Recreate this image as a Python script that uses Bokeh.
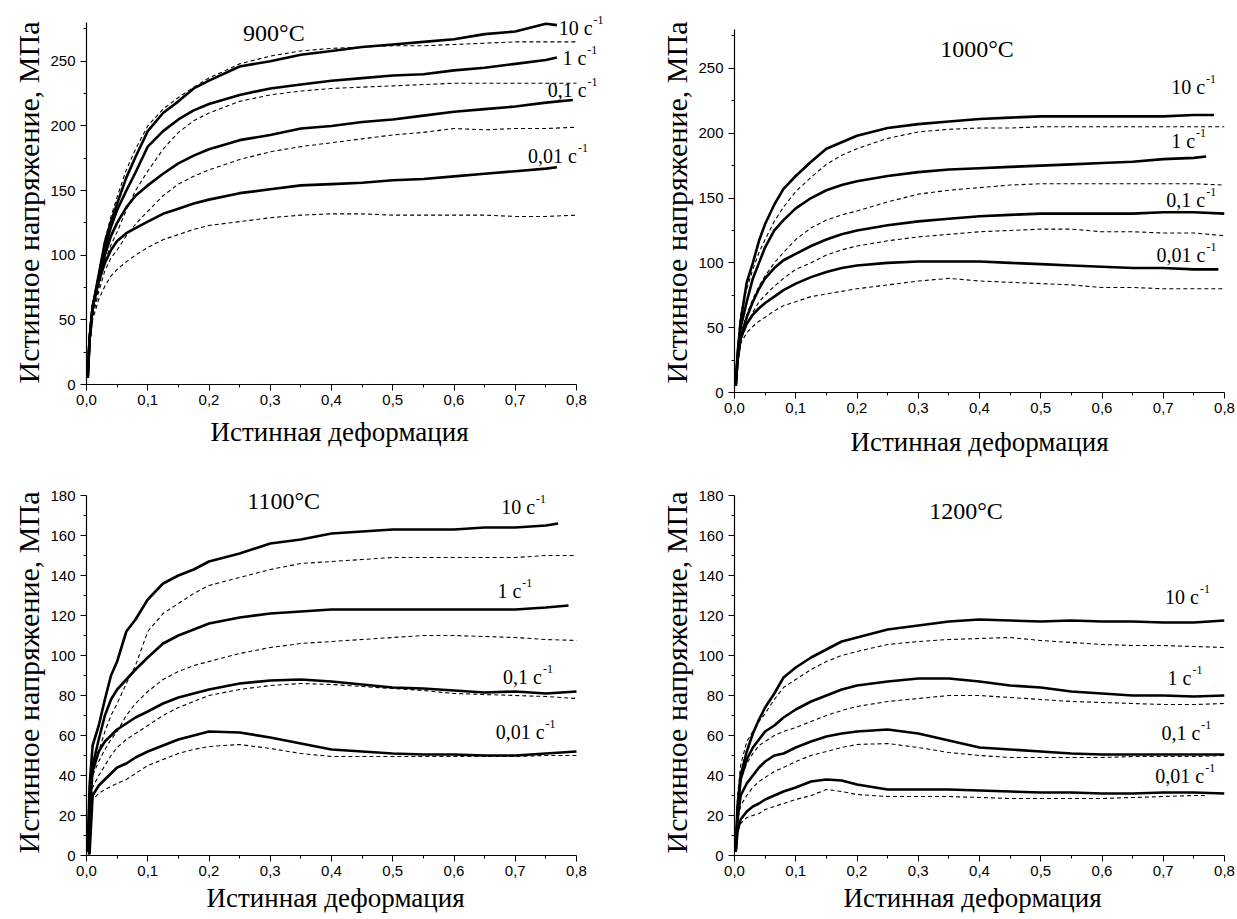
from bokeh.plotting import figure
from bokeh.models import Range1d, FixedTicker, CustomJSTickFormatter, Label, Title
from bokeh.layouts import column, row
from bokeh.embed import file_html
from bokeh.resources import INLINE

# ---------------- data ----------------
STRAIN = [0.002, 0.005, 0.01, 0.02, 0.03, 0.04, 0.05, 0.065, 0.08, 0.1, 0.125,
          0.15, 0.175, 0.2, 0.25, 0.3, 0.35, 0.4, 0.45, 0.5, 0.55, 0.6, 0.65, 0.7, 0.75]

RATES = ["10", "1", "0,1", "0,01"]
TEMPS = ["900°C", "1000°C", "1100°C", "1200°C"]
UNIT = "с"
X_TICKS = [0.0, 0.1, 0.2, 0.3, 0.4, 0.5, 0.6, 0.7, 0.8]
X_MINOR = [0.05, 0.15, 0.25, 0.35, 0.45, 0.55, 0.65, 0.75]
Y_TICKS_HI = [0, 50, 100, 150, 200, 250]
Y_MINOR_HI = [25, 75, 125, 175, 225, 275]
Y_TICKS_LO = [0, 20, 40, 60, 80, 100, 120, 140, 160, 180]
Y_MINOR_LO = [10, 30, 50, 70, 90, 110, 130, 150, 170]
Y_LABEL = "Истинное напряжение, МПа"
X_LABEL = "Истинная деформация"

# 900 C  (solid = measured, dashed = model); last value is at the end strain
S900_10 = [5, 35, 60, 85, 110, 126, 140, 160, 176, 196, 210, 219, 229, 235, 246, 250, 255, 258, 261, 263, 265, 267, 271, 273, 279, 278]
S900_1 = [5, 35, 60, 83, 105, 122, 135, 150, 164, 184, 196, 205, 212, 217, 224, 229, 232, 235, 237, 239, 240, 243, 245, 248, 251, 253]
S900_01 = [5, 35, 60, 80, 100, 115, 125, 137, 146, 154, 163, 171, 177, 182, 189, 193, 198, 200, 203, 205, 208, 211, 213, 215, 218, 220]
S900_001 = [5, 35, 60, 80, 94, 104, 111, 117, 121, 126, 132, 136, 140, 143, 148, 151, 154, 155, 156, 158, 159, 161, 163, 165, 167, 168]
D900_10 = [5, 35, 60, 86, 112, 130, 145, 166, 182, 200, 213, 222, 230, 237, 248, 254, 258, 260, 261, 262, 262, 263, 264, 265, 265, 265]
D900_1 = [5, 30, 55, 75, 95, 108, 118, 135, 150, 165, 182, 195, 204, 210, 219, 224, 227, 229, 230, 231, 232, 233, 233, 233, 233, 233]
D900_01 = [5, 30, 52, 72, 88, 98, 104, 115, 124, 134, 146, 155, 161, 166, 174, 180, 184, 187, 190, 193, 195, 198, 197, 198, 198, 199]
D900_001 = [5, 30, 50, 66, 76, 84, 89, 95, 100, 106, 112, 116, 120, 123, 126, 129, 131, 132, 132, 131, 131, 131, 131, 130, 130, 131]
END900_S = [0.768, 0.768, 0.794, 0.768]
END900_D = [0.8, 0.8, 0.8, 0.8]

# 1000 C
S1000_10 = [5, 30, 55, 85, 100, 117, 130, 145, 157, 167, 178, 188, 193, 198, 204, 207, 209, 211, 212, 213, 213, 213, 213, 213, 214, 214]
S1000_1 = [5, 28, 50, 70, 88, 100, 112, 125, 133, 142, 150, 156, 160, 163, 167, 170, 172, 173, 174, 175, 176, 177, 178, 180, 181, 182]
S1000_01 = [5, 25, 42, 58, 70, 80, 88, 96, 102, 107, 113, 118, 122, 125, 129, 132, 134, 136, 137, 138, 138, 138, 138, 139, 139, 138]
S1000_001 = [5, 25, 42, 53, 60, 65, 69, 74, 79, 84, 89, 93, 96, 98, 100, 101, 101, 101, 100, 99, 98, 97, 96, 96, 95, 95]
D1000_10 = [5, 35, 60, 80, 95, 108, 118, 132, 143, 155, 166, 176, 183, 188, 196, 201, 203, 204, 204, 205, 205, 205, 205, 205, 205, 205]
D1000_1 = [5, 28, 45, 60, 72, 82, 90, 100, 108, 118, 127, 133, 137, 140, 147, 153, 156, 158, 160, 161, 161, 161, 161, 161, 161, 160]
D1000_01 = [5, 25, 40, 52, 62, 70, 75, 82, 88, 95, 100, 106, 110, 113, 117, 120, 122, 124, 125, 126, 126, 124, 124, 123, 123, 121]
D1000_001 = [5, 22, 38, 46, 51, 55, 58, 63, 67, 70, 74, 76, 78, 80, 83, 86, 88, 86, 85, 84, 83, 81, 81, 80, 80, 80]
END1000_S = [0.783, 0.77, 0.8, 0.79]
END1000_D = [0.8, 0.8, 0.8, 0.8]

# 1100 C
S1100_10 = [2, 35, 55, 65, 78, 90, 97, 112, 118, 128, 136, 140, 143, 147, 151, 156, 158, 161, 162, 163, 163, 163, 164, 164, 165, 166]
S1100_1 = [2, 28, 45, 58, 70, 78, 83, 88, 93, 99, 106, 110, 113, 116, 119, 121, 122, 123, 123, 123, 123, 123, 123, 123, 124, 125]
S1100_01 = [2, 22, 42, 52, 57, 60, 63, 66, 69, 72, 76, 79, 81, 83, 86, 87.5, 88, 87, 85.5, 84, 83.5, 82.5, 81.5, 82, 81, 82]
S1100_001 = [1, 1, 30, 35, 38, 41, 44, 46, 49, 52, 55, 58, 60, 62, 61.5, 59, 56, 53, 52, 51, 50.5, 50.5, 50, 50, 51, 52]
D1100_10 = [2, 28, 42, 52, 62, 70, 76, 86, 95, 112, 121, 126, 131, 135, 139, 143, 146, 147, 148, 149, 149, 149, 149, 149, 150, 150]
D1100_1 = [2, 25, 40, 47, 53, 58, 62, 70, 76, 82, 88, 92, 95, 97, 101, 104, 106, 107, 108, 109, 110, 110, 109.5, 109, 108, 107.5]
D1100_01 = [2, 20, 34, 40, 45, 50, 54, 58, 61, 65, 70, 74, 77, 80, 83, 85, 86, 85.5, 84.5, 83.5, 82.5, 81, 80.5, 80, 79.5, 78.5]
D1100_001 = [2, 18, 28, 31, 33, 34.5, 36, 38, 41, 45, 48, 51, 53, 54.5, 55.5, 53.5, 51, 49.5, 49.5, 49.5, 49.5, 49.5, 49.5, 49.5, 50, 50]
END1100_S = [0.77, 0.787, 0.8, 0.8]
END1100_D = [0.8, 0.8, 0.8, 0.8]

# 1200 C
S1200_10 = [2, 25, 40, 52, 61, 68, 74, 81, 89, 94, 99, 103, 107, 109, 113, 115, 117, 118, 117.5, 117, 117.5, 117, 117, 116.5, 116.5, 117.5]
S1200_1 = [2, 22, 38, 48, 54, 58, 62, 65, 69, 73, 77, 80, 83, 85, 87, 88.5, 88.5, 87, 85, 84, 82, 81, 80, 80, 79.5, 80]
S1200_01 = [2, 18, 30, 36, 40, 44, 47, 50, 51, 54, 57, 59.5, 61, 62, 63, 61, 57.5, 54, 53, 52, 51, 50.5, 50.5, 50.5, 50.5, 50.5]
S1200_001 = [2, 12, 18, 22, 24.5, 26, 28, 30, 32, 34, 37, 38, 37.5, 35.5, 33, 33, 33, 32.5, 32, 31.5, 31.5, 31, 31, 31.5, 31.5, 31]
D1200_10 = [2, 30, 45, 57, 62, 67, 71, 78, 84, 88, 93, 97, 100, 102, 105.5, 107, 108, 108.5, 109, 107.5, 106.5, 105.5, 105, 105, 104.5, 104]
D1200_1 = [2, 25, 38, 46, 51, 55, 57, 60, 62, 64, 67, 70, 72.5, 74.5, 77, 78.5, 80, 80, 79, 78, 77, 76.5, 76, 75.5, 75.5, 76]
D1200_01 = [2, 18, 25, 30, 34, 37, 39, 42, 44, 47, 50, 52, 54, 55.5, 56, 54, 51.5, 50, 49, 49, 49, 49, 49.5, 49.5, 49.5, 50]
D1200_001 = [2, 12, 16, 19, 20, 21, 23, 24.5, 26, 28, 30, 33, 32, 30.5, 29.5, 29.5, 29.5, 29, 28.5, 28.5, 28.5, 28.5, 29, 29.5, 30, 30]
END1200_S = [0.8, 0.8, 0.8, 0.8]
END1200_D = [0.8, 0.8, 0.8, 0.77]

# ---------------- layout / style ----------------
SERIF = "Liberation Serif"
SANS = "Liberation Sans"

# xt: None -> ordinary x axis label, else (standoff, offset from frame left) of a Title below
# yt: (standoff, offset from frame bottom) of a Title on the left
panels = [
    dict(temp=TEMPS[0], solid=[S900_10, S900_1, S900_01, S900_001],
         dashed=[D900_10, D900_1, D900_01, D900_001], end_s=END900_S, end_d=END900_D,
         ymax=280, ytk=Y_TICKS_HI, ymn=Y_MINOR_HI, xend=527 / 612.5, yend=380 * 280 / 362,
         w=618, h=460, left=86, right=5, top=4, bottom=76,
         title_pos=(0.306, 272), lab_pos=[(0.771, 276), (0.777, 252.5), (0.753, 227.7), (0.721, 177)],
         xt=(18, 124), yt=(6, 1), xlab_st=9),
    dict(temp=TEMPS[1], solid=[S1000_10, S1000_1, S1000_01, S1000_001],
         dashed=[D1000_10, D1000_1, D1000_01, D1000_001], end_s=END1000_S, end_d=END1000_D,
         ymax=280, ytk=Y_TICKS_HI, ymn=Y_MINOR_HI, xend=0.8, yend=280,
         w=619, h=460, left=116, right=13, top=29, bottom=68,
         title_pos=(0.396, 265), lab_pos=[(0.713, 235.3), (0.713, 193.8), (0.705, 148.3), (0.689, 106.3)],
         xt=None, yt=(6, 9), xlab_st=11),
    dict(temp=TEMPS[2], solid=[S1100_10, S1100_1, S1100_01, S1100_001],
         dashed=[D1100_10, D1100_1, D1100_01, D1100_001], end_s=END1100_S, end_d=END1100_D,
         ymax=180, ytk=Y_TICKS_LO, ymn=Y_MINOR_LO, xend=527 / 612.5, yend=185,
         w=618, h=459, left=86, right=5, top=25, bottom=64,
         title_pos=(0.322, 177.5), lab_pos=[(0.677, 174.2), (0.671, 132.5), (0.680, 89.2), (0.668, 61.7)],
         xt=(8, 120), yt=(6, 2), xlab_st=5),
    dict(temp=TEMPS[3], solid=[S1200_10, S1200_1, S1200_01, S1200_001],
         dashed=[D1200_10, D1200_1, D1200_01, D1200_001], end_s=END1200_S, end_d=END1200_D,
         ymax=180, ytk=Y_TICKS_LO, ymn=Y_MINOR_LO, xend=0.8, yend=180,
         w=619, h=459, left=116, right=13, top=35, bottom=64,
         title_pos=(0.378, 172.5), lab_pos=[(0.703, 129.2), (0.707, 88.7), (0.697, 61.3), (0.687, 39.7)],
         xt=(8, 109), yt=(6, 2), xlab_st=8),
]

# advance widths (em) of Liberation Serif glyphs used in the rate labels
ADV = {"0": 0.5, "1": 0.5, ",": 0.25, " ": 0.25, "с": 0.444}
LAB_PX = 20


def make_panel(c):
    p = figure(width=c["w"], height=c["h"], x_range=Range1d(0, c["xend"]), y_range=Range1d(0, c["yend"]),
               output_backend="svg", toolbar_location=None,
               min_border_left=c["left"], min_border_right=c["right"],
               min_border_top=c["top"], min_border_bottom=c["bottom"])
    p.grid.visible = False
    p.outline_line_color = None
    p.background_fill_color = "white"
    p.border_fill_color = "white"

    for ax, ticks, minor, bounds in ((p.xaxis, X_TICKS, X_MINOR, (0, 0.8)),
                                     (p.yaxis, c["ytk"], c["ymn"], (0, c["ymax"]))):
        ax.ticker = FixedTicker(ticks=ticks, minor_ticks=minor)
        ax.bounds = bounds
        ax.axis_line_color = "black"
        ax.axis_line_width = 1.2
        ax.major_tick_line_color = "black"
        ax.minor_tick_line_color = "black"
        ax.major_tick_out = 6
        ax.major_tick_in = 0
        ax.minor_tick_out = 3
        ax.minor_tick_in = 0
        ax.major_label_text_font = SANS
        ax.major_label_text_font_size = "15px"
        ax.major_label_text_color = "black"
        ax.axis_label_text_font = SERIF
        ax.axis_label_text_font_style = "normal"
        ax.axis_label_text_color = "black"
    p.xaxis.formatter = CustomJSTickFormatter(code="return tick.toFixed(1).replace('.', ',');")
    p.xaxis.major_label_standoff = 4
    p.yaxis.major_label_standoff = 5
    p.xaxis.axis_label_text_font_size = "27px"

    if c["xt"] is None:
        p.xaxis.axis_label = X_LABEL
        p.xaxis.axis_label_standoff = c["xlab_st"]
    else:
        st, off = c["xt"]
        p.add_layout(Title(text=X_LABEL, align="left", vertical_align="top", offset=off,
                           standoff=st, text_font=SERIF, text_font_size="27px",
                           text_font_style="normal", text_color="black"), "below")
    st, off = c["yt"]
    p.add_layout(Title(text=Y_LABEL, align="left", vertical_align="bottom", offset=off,
                       standoff=st, text_font=SERIF, text_font_size="30px",
                       text_font_style="normal", text_color="black"), "left")

    for ys, e in zip(c["dashed"], c["end_d"]):
        p.line(STRAIN + [e], ys, line_color="black", line_width=1.1, line_dash="4 3")
    for ys, e in zip(c["solid"], c["end_s"]):
        p.line(STRAIN + [e], ys, line_color="black", line_width=2.6, line_join="round")

    tx, ty = c["title_pos"]
    p.add_layout(Label(x=tx, y=ty, text=c["temp"], text_font=SERIF, text_font_size="24px",
                       text_align="center", text_baseline="middle", text_color="black"))
    for rate, (lx, ly) in zip(RATES, c["lab_pos"]):
        main = rate + " " + UNIT
        p.add_layout(Label(x=lx, y=ly, text=main, text_font=SERIF,
                           text_font_size=f"{LAB_PX}px", text_align="left",
                           text_baseline="middle", text_color="black"))
        wpx = sum(ADV.get(ch, 0.5) for ch in main) * LAB_PX
        p.add_layout(Label(x=lx, y=ly, x_offset=wpx + 1, y_offset=8, text="-1",
                           text_font=SERIF, text_font_size="12px", text_align="left",
                           text_baseline="middle", text_color="black"))
    return p


figs = [make_panel(c) for c in panels]
layout = row(column(figs[0], figs[2]), column(figs[1], figs[3]))

open("out.html", "w").write(file_html(layout, INLINE))
